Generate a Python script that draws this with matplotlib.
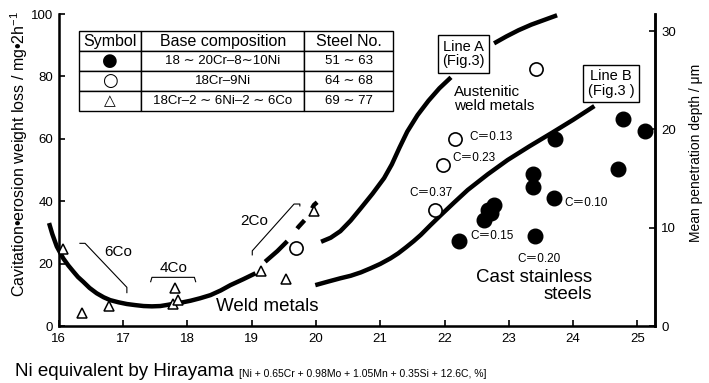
import matplotlib.pyplot as plt

plt.rcParams['font.family'] = ['Liberation Sans', 'DejaVu Sans']
plt.rcParams['mathtext.fontset'] = 'custom'
plt.rcParams['mathtext.rm'] = 'Liberation Sans'

# ---- data (Ni equivalent, weight loss mg/2h) ----
# cast stainless steels 18~20Cr-8~10Ni (filled circles)
cast_ni = [22.22, 22.61, 22.67, 22.72, 22.77, 23.38, 23.38, 23.40, 23.70, 23.72, 24.70, 24.78, 25.12]
cast_loss = [27.3, 34.0, 37.2, 36.1, 38.8, 48.7, 44.4, 28.8, 40.9, 59.8, 50.3, 66.2, 62.6]

# 18Cr-9Ni weld metals (open circles)
aus_ni = [19.69, 21.85, 21.98, 22.17, 23.42]
aus_loss = [24.9, 37.2, 51.6, 59.8, 82.4]

# 18Cr-2~6Ni-2~6Co weld metals (triangles)
co_ni = [16.06, 16.37, 16.78, 17.78, 17.81, 17.86, 19.14, 19.54, 19.97]
co_loss = [24.6, 4.1, 6.4, 7.1, 12.3, 8.3, 17.7, 15.0, 36.9]

# hand drawn trend curves
weld_ni = [15.85, 15.90, 15.97, 16.07, 16.15, 16.23, 16.30, 16.38, 16.48, 16.59, 16.70,
           16.80, 16.93, 17.06, 17.19, 17.32, 17.45, 17.58, 17.70, 17.80, 17.93, 18.05,
           18.20, 18.36, 18.52, 18.67, 18.87, 19.06]
weld_loss = [33.0, 29.5, 25.5, 21.7, 19.4, 17.4, 15.7, 14.2, 12.2, 10.5, 9.2,
             8.3, 7.6, 7.05, 6.7, 6.4, 6.3, 6.4, 6.8, 7.2, 7.6, 8.1,
             8.9, 9.9, 11.4, 13.1, 15.0, 16.9]
weld_dash_ni = [19.21, 19.40, 19.56, 19.73, 19.85, 19.97, 20.06]
weld_dash_loss = [20.6, 24.0, 27.3, 31.8, 34.5, 38.8, 40.4]

lineA_low_ni = [20.08, 20.23, 20.38, 20.54, 20.70, 20.88, 21.06, 21.18, 21.30, 21.42,
                21.58, 21.75, 21.92, 22.10]
lineA_low_loss = [27.0, 28.3, 30.4, 33.8, 37.8, 42.4, 47.4, 51.8, 57.2, 62.3,
                  67.6, 72.2, 76.2, 79.7]
lineA_up_ni = [22.77, 22.96, 23.15, 23.35, 23.55, 23.75]
lineA_up_loss = [90.6, 92.8, 94.8, 96.6, 98.1, 99.6]

lineB_ni = [19.99, 20.20, 20.38, 20.54, 20.70, 20.85, 21.00, 21.16, 21.28, 21.40, 21.52,
            21.63, 21.78, 21.94, 22.15, 22.36, 22.67, 22.98, 23.32, 23.66, 24.00, 24.33]
lineB_loss = [13.1, 14.3, 15.3, 16.1, 17.2, 18.5, 19.9, 21.7, 23.3, 25.2, 27.2,
              29.2, 32.3, 35.5, 39.6, 43.6, 48.6, 53.2, 57.6, 61.8, 66.1, 70.5]

# table
table_head = ['Symbol', 'Base composition', 'Steel No.']
table_rows = [['●', '18 ∼ 20Cr–8∼10Ni', '51 ∼ 63'],
              ['○', '18Cr–9Ni', '64 ∼ 68'],
              ['△', '18Cr–2 ∼ 6Ni–2 ∼ 6Co', '69 ∼ 77']]

carbon_text = ['C＝0.13', 'C＝0.23', 'C＝0.37', 'C＝0.10', 'C＝0.15', 'C＝0.20']

mg_per_um = 3.15

fig = plt.figure(figsize=(7.09, 3.83), dpi=100)
ax = fig.add_axes([0.0828, 0.1488, 0.8417, 0.8146])

# curves
ax.plot(weld_ni, weld_loss, color='black', lw=3.2, solid_capstyle='butt', clip_on=False)
ax.plot(weld_dash_ni, weld_dash_loss, color='black', lw=3.2,
        linestyle=(0, (6.8, 3.6, 2.5, 3.2, 1.8, 3.0)))
ax.plot(lineA_low_ni, lineA_low_loss, color='black', lw=3.2, solid_capstyle='butt')
ax.plot(lineA_up_ni, lineA_up_loss, color='black', lw=3.2, solid_capstyle='butt', clip_on=False)
ax.plot(lineB_ni, lineB_loss, color='black', lw=3.2, solid_capstyle='butt')

# points
ax.plot(cast_ni, cast_loss, 'o', ms=10.5, color='black', zorder=5)
ax.plot(aus_ni, aus_loss, 'o', ms=9.5, mfc='white', mec='black', mew=1.2, zorder=5)
ax.plot(co_ni, co_loss, '^', ms=7.5, mfc='white', mec='black', mew=1.1, zorder=5)

# Co brackets
thin = dict(color='black', lw=0.8)
ax.plot([16.33, 16.41, 17.06, 17.06], [26.5, 26.5, 12.4, 10.7], **thin)
ax.plot([17.43, 17.45, 18.11, 18.13], [14.2, 15.6, 15.6, 14.2], **thin)
ax.plot([19.01, 19.01, 19.66, 19.75, 19.75], [22.8, 24.1, 39.1, 39.1, 38.5], **thin)
ax.text(16.93, 23.8, '6Co', fontsize=11, ha='center', va='center')
ax.text(17.78, 18.5, '4Co', fontsize=11, ha='center', va='center')
ax.text(19.04, 33.8, '2Co', fontsize=11, ha='center', va='center')

# region labels
ax.text(19.24, 6.2, 'Weld metals', fontsize=13.5, ha='center', va='center')
ax.text(24.30, 12.9, 'Cast stainless\nsteels', fontsize=13.5, ha='right', va='center',
        multialignment='right', linespacing=1.0)
ax.text(22.15, 72.7, 'Austenitic\nweld metals', fontsize=11, ha='left', va='center',
        linespacing=1.0)

box = dict(boxstyle='square,pad=0.3', fc='white', ec='black', lw=1.0)
ax.text(22.29, 87.2, 'Line A\n(Fig.3)', fontsize=10.5, ha='center', va='center',
        bbox=box, linespacing=1.05, zorder=6)
ax.text(24.59, 77.8, 'Line B\n(Fig.3 )', fontsize=10.5, ha='center', va='center',
        bbox=box, linespacing=1.05, zorder=6)

# carbon contents
carbon_x = [22.38, 22.12, 21.45, 23.87, 22.40, 23.14]
carbon_y = [60.5, 53.7, 42.7, 39.3, 28.8, 21.4]
for s, cx, cy in zip(carbon_text, carbon_x, carbon_y):
    ax.text(cx, cy, s, fontsize=8.5, ha='left', va='center',
            family=['Liberation Sans', 'Noto Sans CJK JP'])

# legend table
tab = ax.table(cellText=table_rows, colLabels=table_head, cellLoc='center',
               colWidths=[0.197, 0.519, 0.283], bbox=[0.0345, 0.689, 0.526, 0.255])
tab.auto_set_font_size(False)
for (r, c), cell in tab.get_celld().items():
    cell.set_linewidth(1.0)
    cell.set_facecolor('white')
    txt = cell.get_text()
    if r == 0:
        txt.set_fontsize(11.5)
    elif c == 0:
        txt.set_family('DejaVu Sans')
        txt.set_fontsize(13 if r < 3 else 11)
    else:
        txt.set_fontsize(9.5)

# axes
ax.set_xlim(16, 25.28)
ax.set_ylim(0, 100)
ax.set_xticks(range(16, 26))
ax.set_yticks(range(0, 101, 20))
ax.tick_params(direction='in', length=4.5, width=1.2, labelsize=9.5)
ax.tick_params(axis='x', pad=5)
ax.tick_params(axis='y', pad=4)
ax.spines['top'].set_visible(False)
for s in ['left', 'bottom', 'right']:
    ax.spines[s].set_linewidth(1.8)

ax2 = ax.twinx()
ax2.set_ylim(0, 100 / mg_per_um)
ax2.set_yticks([0, 10, 20, 30])
ax2.tick_params(direction='in', length=4.5, width=1.2, labelsize=9.5, pad=4)
ax2.spines['top'].set_visible(False)
ax2.spines['right'].set_linewidth(1.8)

fig.text(0.0268, 0.598, 'Cavitation•erosion weight loss / mg•2h$^{-1}$', rotation=90,
         fontsize=11.5, ha='center', va='center')
fig.text(0.982, 0.602, 'Mean penetration depth / μm', rotation=90,
         fontsize=10, ha='center', va='center')

t1 = fig.text(15 / 709, 0.018, 'Ni equivalent by Hirayama ', fontsize=13.5,
              ha='left', va='baseline')
ax.annotate('[Ni + 0.65Cr + 0.98Mo + 1.05Mn + 0.35Si + 12.6C, %]', xy=(1, 0.08),
            xycoords=t1, ha='left', va='bottom', fontsize=7.5,
            annotation_clip=False)

fig.savefig('out.png', dpi=100)
